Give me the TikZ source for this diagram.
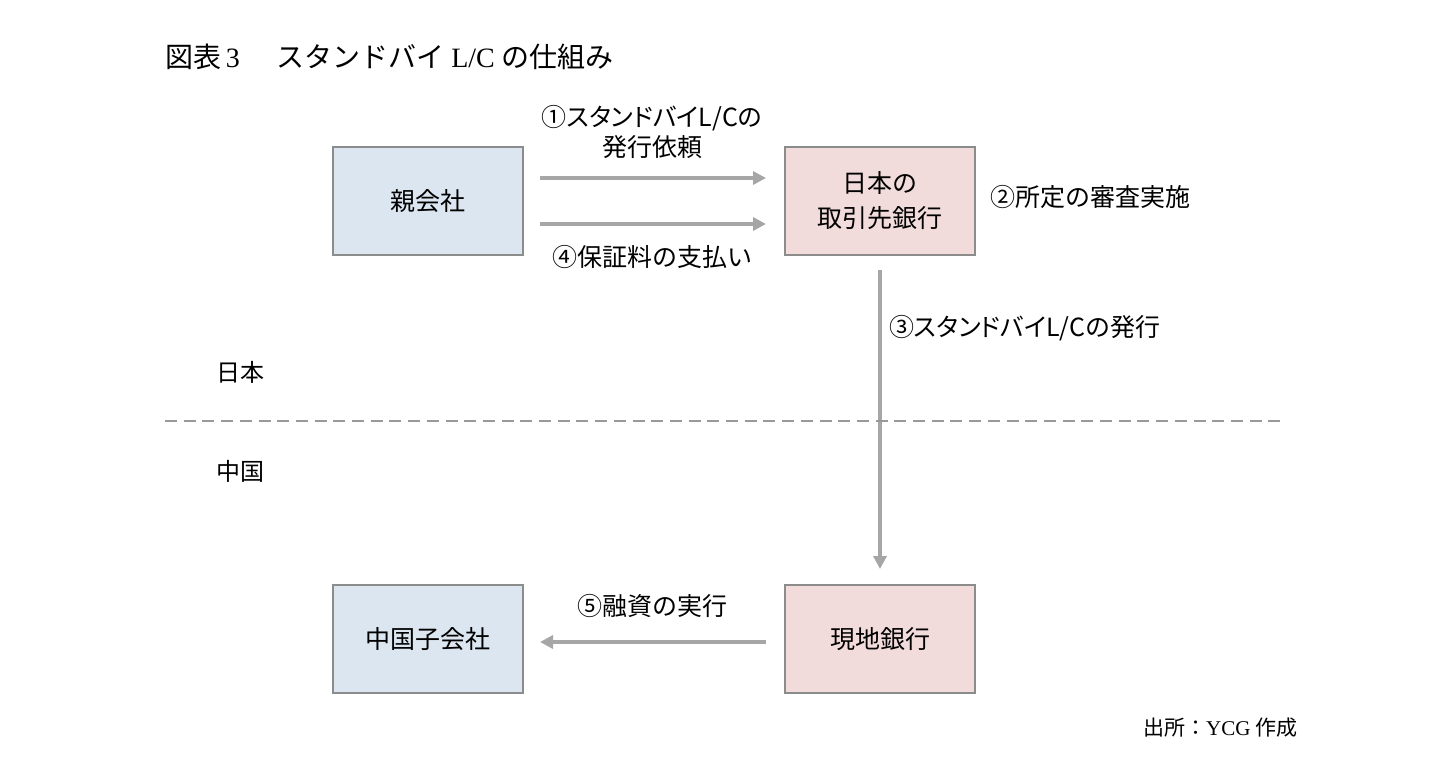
\documentclass[tikz,border=0pt]{standalone}
\usepackage{fontspec}
\setmainfont{Liberation Serif}
\newfontfamily\jp{Noto Sans CJK JP}
\newfontfamily\jpp[RawFeature=+palt]{Noto Sans CJK JP}
\usetikzlibrary{arrows.meta}
\definecolor{boxblue}{HTML}{DCE6F1}
\definecolor{boxpink}{HTML}{F2DCDB}
\definecolor{boxline}{HTML}{8C8C8C}
\definecolor{arrgray}{HTML}{A6A6A6}
\definecolor{dashgray}{HTML}{999999}
\begin{document}
\begin{tikzpicture}[x=1pt,y=-1pt,
  box/.style={draw=boxline,line width=2pt,minimum width=190pt,minimum height=108pt,inner sep=0pt,align=center,font=\jp\fontsize{25}{35}\selectfont,text=black},
  bluebox/.style={box,fill=boxblue},
  pinkbox/.style={box,fill=boxpink},
  lbl/.style={inner sep=0pt,align=center,font=\jp\fontsize{25}{30}\selectfont,text=black},
  flow/.style={draw=arrgray,line width=4pt,-{Triangle[length=13pt,width=13pt]}}]
\useasboundingbox (0,0) rectangle (1455,778);
% title
\node[anchor=west,inner sep=0pt,font=\fontsize{28}{30}\selectfont] (title) at (165,57) {{\jp 図表}\,3\hspace{1.3em}{\jp スタンドバイ} L/C {\jp の仕組み}};
% boxes
\node[bluebox] (oya) at (428,201) {親会社};
\node[pinkbox] (jbank) at (880,201) {日本の\\取引先銀行};
\node[bluebox] (ko) at (428,639) {中国子会社};
\node[pinkbox] (lbank) at (880,639) {現地銀行};
% arrow anchors
\coordinate (a1s) at (540,178);
\coordinate (a1e) at (766,178);
\coordinate (a4s) at (540,224);
\coordinate (a4e) at (766,224);
\coordinate (a3s) at (880,270);
\coordinate (a3e) at (880,569);
\coordinate (a5s) at (766,642);
\coordinate (a5e) at (540,642);
\draw[flow] (a1s) -- (a1e);
\draw[flow] (a4s) -- (a4e);
\draw[flow] (a3s) -- (a3e);
\draw[flow] (a5s) -- (a5e);
% labels
\node[lbl] (l1) at (652,132) {{\jpp ①スタンドバイL/Cの}\\発行依頼};
\node[lbl] (l4) at (652,257) {④保証料の支払い};
\node[lbl,anchor=west] (l2) at (990,197) {②所定の審査実施};
\node[lbl,anchor=west] (l3) at (889,328) {{\jpp ③スタンドバイL/C}の発行};
\node[lbl] (l5) at (652,606) {⑤融資の実行};
% region
\node[lbl,font=\jp\fontsize{24}{28}\selectfont] (jp) at (240,372) {日本};
\node[lbl,font=\jp\fontsize{24}{28}\selectfont] (cn) at (240,471) {中国};
\coordinate (dl) at (165,421);
\coordinate (dr) at (1285,421);
\draw[dashgray,line width=2.5pt,dash pattern=on 12pt off 6.7pt] (dl) -- (dr);
% source
\node[anchor=east,inner sep=0pt,font=\fontsize{21}{24}\selectfont] (src) at (1298,728) {{\jp 出所：}YCG {\jp 作成}};
\end{tikzpicture}
\end{document}
